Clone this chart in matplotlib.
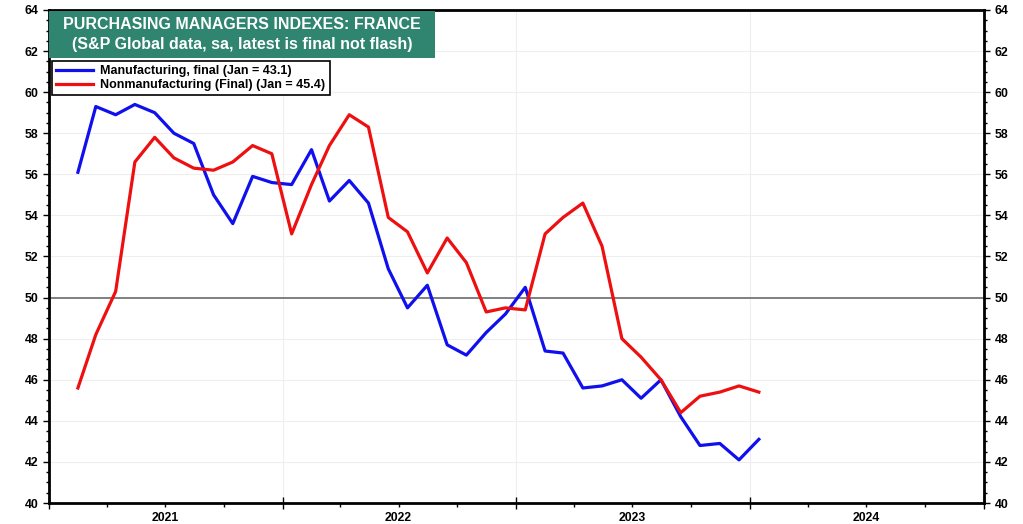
import matplotlib
matplotlib.use("Agg")
import matplotlib.pyplot as plt
import matplotlib.dates as mdates
from matplotlib.patches import Rectangle
from matplotlib.ticker import MultipleLocator
import pandas as pd

plt.rcParams['font.family'] = ['Liberation Sans', 'DejaVu Sans']

# monthly PMI readings, Feb 2021 .. Jan 2024
months = pd.date_range("2021-02-01", "2024-01-01", freq="MS") + pd.Timedelta(days=14)
manufacturing = [56.1, 59.3, 58.9, 59.4, 59.0, 58.0, 57.5, 55.0, 53.6, 55.9, 55.6,
                 55.5, 57.2, 54.7, 55.7, 54.6, 51.4, 49.5, 50.6, 47.7, 47.2, 48.3, 49.2,
                 50.5, 47.4, 47.3, 45.6, 45.7, 46.0, 45.1, 46.0, 44.2, 42.8, 42.9, 42.1,
                 43.1]
nonmanufacturing = [45.6, 48.2, 50.3, 56.6, 57.8, 56.8, 56.3, 56.2, 56.6, 57.4, 57.0,
                    53.1, 55.5, 57.4, 58.9, 58.3, 53.9, 53.2, 51.2, 52.9, 51.7, 49.3, 49.5,
                    49.4, 53.1, 53.9, 54.6, 52.5, 48.0, 47.1, 46.0, 44.4, 45.2, 45.4, 45.7,
                    45.4]
year_labels = ["2021", "2022", "2023", "2024"]

fig = plt.figure(figsize=(10.23, 5.24), dpi=100)
ax = fig.add_axes([0.048, 0.040, 0.914, 0.941])

ax.plot(months, manufacturing, color="#1010ee", lw=2.3, label="Manufacturing, final (Jan = 43.1)")
ax.plot(months, nonmanufacturing, color="#ee1010", lw=2.3, label="Nonmanufacturing (Final) (Jan = 45.4)")
ax.axhline(50, color="#808080", lw=1.4, zorder=1)

ax.set_xlim(pd.Timestamp("2021-01-01"), pd.Timestamp("2025-01-01"))
ax.set_ylim(40, 64)

# y axis on both sides
ax.yaxis.set_major_locator(MultipleLocator(2))
ax.yaxis.set_minor_locator(MultipleLocator(0.5))
ax.tick_params(axis="y", which="both", left=True, right=True, labelleft=True, labelright=True,
               direction="out", labelsize=8.8, width=1)
ax.tick_params(axis="y", which="major", length=4)
ax.tick_params(axis="y", which="minor", length=2)
for lab in ax.get_yticklabels():
    lab.set_fontweight("bold")

# x axis: year boundaries and quarters, year names centred in each year
ax.xaxis.set_major_locator(mdates.YearLocator())
ax.xaxis.set_minor_locator(mdates.MonthLocator(bymonth=[4, 7, 10]))
ax.xaxis.set_major_formatter(plt.NullFormatter())
ax.tick_params(axis="x", which="major", direction="inout", length=8, width=1)
ax.tick_params(axis="x", which="minor", direction="out", length=3, width=1)
for i, yr in enumerate(year_labels):
    ax.text(pd.Timestamp(f"{2021 + i}-07-01"), -0.018, yr, transform=ax.get_xaxis_transform(),
            ha="center", va="top", fontsize=8.8, fontweight="bold")

ax.grid(axis="y", which="major", color="#eeeeee", lw=0.8)
ax.grid(axis="x", which="major", color="#eeeeee", lw=0.8)
ax.set_axisbelow(True)

for side in ["left", "bottom", "right", "top"]:
    ax.spines[side].set_linewidth(2)
    ax.spines[side].set_color("black")

# title box
ax.add_patch(Rectangle((0, 0.903), 0.413, 0.094, transform=ax.transAxes,
                       facecolor="#2f8570", edgecolor="none", zorder=5))
ax.text(0.2065, 0.950, "PURCHASING MANAGERS INDEXES: FRANCE\n(S&P Global data, sa, latest is final not flash)",
        transform=ax.transAxes, ha="center", va="center", color="white",
        fontsize=11.5, fontweight="bold", linespacing=1.45, zorder=6)

leg = ax.legend(loc="upper left", bbox_to_anchor=(0.003, 0.897), borderaxespad=0, frameon=True,
                fancybox=False, edgecolor="black", framealpha=1, borderpad=0.35, handlelength=2.9,
                handletextpad=0.6, labelspacing=0.15, prop={"weight": "bold", "size": 9})
leg.get_frame().set_linewidth(1.2)
leg.set_zorder(6)

fig.savefig("out.png", dpi=100)
